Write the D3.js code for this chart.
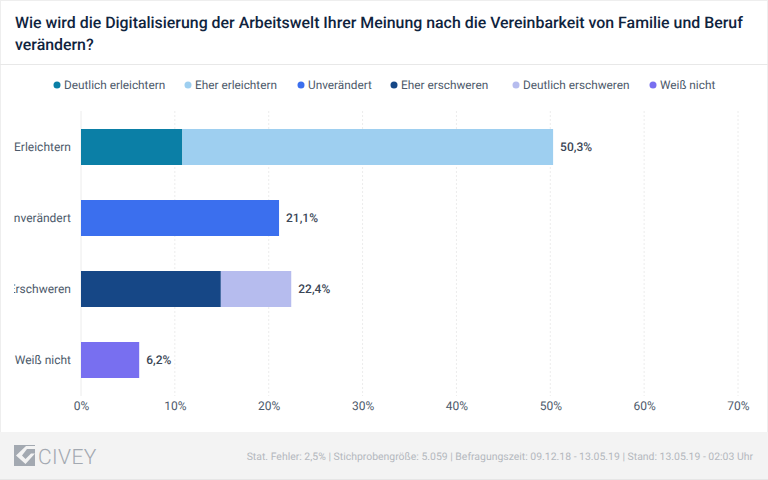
<!DOCTYPE html>
<html><head><meta charset="utf-8">
<script src="https://cdn.jsdelivr.net/npm/d3@7"></script>
<style>html,body{margin:0;padding:0;background:#fff}svg{display:block}text{font-family:Roboto,sans-serif;text-rendering:geometricPrecision}</style>
</head><body><svg id="c" width="768" height="480"></svg>
<script>
const titleLines = ["Wie wird die Digitalisierung der Arbeitswelt Ihrer Meinung nach die Vereinbarkeit von Familie und Beruf","verändern?"];
const categories = ["Erleichtern","Unverändert","Erschweren","Weiß nicht"];
const seriesNames = ["Deutlich erleichtern","Eher erleichtern","Unverändert","Eher erschweren","Deutlich erschweren","Weiß nicht"];
const seriesColors = ["#0b7fa6","#9ecff0","#3b6fee","#164786","#b6bcee","#786ff0"];
const deutlichErleichtern = [10.8,0,0,0];
const eherErleichtern = [39.5,0,0,0];
const unveraendert = [0,21.1,0,0];
const eherErschweren = [0,0,14.9,0];
const deutlichErschweren = [0,0,7.5,0];
const weissNicht = [0,0,0,6.2];
const totalLabels = ["50,3%","21,1%","22,4%","6,2%"];
const xTicks = [0,10,20,30,40,50,60,70];
const footerText = "Stat. Fehler: 2,5% | Stichprobengröße: 5.059 | Befragungszeit: 09.12.18 - 13.05.19 | Stand: 13.05.19 - 02:03 Uhr";

const allSeries = [deutlichErleichtern,eherErleichtern,unveraendert,eherErschweren,deutlichErschweren,weissNicht];
const svg = d3.select("#c");
const x = d3.scaleLinear().domain([0,70]).range([81,738]);
const y = d3.scaleBand().domain(categories).range([111.5,395.5]).paddingInner(0.493).paddingOuter(0.2465);

// frame
svg.append("rect").attr("x",0).attr("y",0).attr("width",768).attr("height",480).attr("fill","#fff");
svg.append("rect").attr("x",0).attr("y",0).attr("width",768).attr("height",1).attr("fill","#eeeeee");
svg.append("rect").attr("x",0).attr("y",0).attr("width",1).attr("height",480).attr("fill","#eeeeee");
svg.append("rect").attr("x",767).attr("y",0).attr("width",1).attr("height",480).attr("fill","#eeeeee");
svg.append("rect").attr("x",0).attr("y",64).attr("width",768).attr("height",1).attr("fill","#e8e8e8");

// title
svg.append("g").selectAll("text").data(titleLines).join("text")
  .attr("x",15).attr("y",(d,i)=>27.5+i*22).attr("fill","#10243e")
  .attr("font-size",15.9).attr("font-weight",500).text(d=>d);

// legend
const legendX = [57,188,301,394,516,653];
const lg = svg.append("g").selectAll("g").data(seriesNames).join("g")
  .attr("transform",(d,i)=>`translate(${legendX[i]},85)`);
lg.append("circle").attr("r",3.5).attr("fill",(d,i)=>seriesColors[i]);
lg.append("text").attr("x",7).attr("y",4.3).attr("font-size",11.8).attr("fill","#4d5a6b").text(d=>d);

// grid
svg.append("g").selectAll("line").data(xTicks).join("line")
  .attr("x1",d=>x(d)).attr("x2",d=>x(d)).attr("y1",111).attr("y2",396)
  .attr("stroke","#ececec").attr("stroke-width",1)
  .attr("stroke-dasharray",d=>d===0?null:"2,2");

// bars
const stack = d3.stack().keys(d3.range(allSeries.length)).value((d,k)=>allSeries[k][d])(d3.range(categories.length));
stack.forEach((layer,k)=>{
  svg.append("g").selectAll("rect").data(layer.map((v,i)=>({v,i})).filter(o=>o.v[1]>o.v[0])).join("rect")
    .attr("x",o=>x(o.v[0])).attr("width",o=>x(o.v[1])-x(o.v[0]))
    .attr("y",o=>y(categories[o.i])).attr("height",y.bandwidth())
    .attr("fill",seriesColors[k]);
});

// total labels
const totals = categories.map((c,i)=>d3.sum(allSeries,s=>s[i]));
svg.append("g").selectAll("text").data(categories).join("text")
  .attr("x",(d,i)=>x(totals[i])+7).attr("y",d=>y(d)+y.bandwidth()/2+4.3)
  .attr("font-size",12).attr("font-weight",500).attr("fill","#3b4656")
  .text((d,i)=>totalLabels[i]);

// category labels clipped at the left
svg.append("clipPath").attr("id","cl").append("rect").attr("x",14).attr("y",100).attr("width",70).attr("height",300);
const yAxis = svg.append("g").attr("clip-path","url(#cl)").append("g").attr("transform","translate(71,0.5)")
  .call(d3.axisLeft(y).tickSize(0).tickPadding(0));
yAxis.select(".domain").remove();
yAxis.selectAll("text").attr("font-family","Roboto,sans-serif").attr("font-size",12).attr("fill","#4d5a6b");

// x axis
const xAxis = svg.append("g").attr("transform","translate(0,401.5)")
  .call(d3.axisBottom(x).tickValues(xTicks).tickSize(0).tickPadding(0).tickFormat(d=>d+"%"));
xAxis.select(".domain").remove();
xAxis.selectAll("text").attr("font-family","Roboto,sans-serif").attr("font-size",12).attr("fill","#4d5a6b").attr("dy","0.71em");

// footer
svg.append("rect").attr("x",0).attr("y",432).attr("width",768).attr("height",47).attr("fill","#f3f3f3");
svg.append("rect").attr("x",0).attr("y",479).attr("width",768).attr("height",1).attr("fill","#e6e6e6");
svg.append("text").attr("x",753).attr("y",460).attr("text-anchor","end").attr("font-size",10.45)
  .attr("fill","#b4b8be").text(footerText);

// logo
const logo = svg.append("g").attr("transform","translate(14,445)");
logo.append("rect").attr("width",21).attr("height",21).attr("fill","#a3a9b1");
logo.append("path").attr("d","M12 1 L21 1 L21 4 L13 4 L8 10.5 L11.5 14 L17 8.5 L21 8.5 L11.5 19 L2 10.5 Z").attr("fill","#f3f3f3");
svg.append("text").attr("x",38).attr("y",463.5).attr("font-size",21).attr("font-weight",300).attr("fill","#a3a9b1").attr("letter-spacing",0.4).text("CIVEY");
</script></body></html>
